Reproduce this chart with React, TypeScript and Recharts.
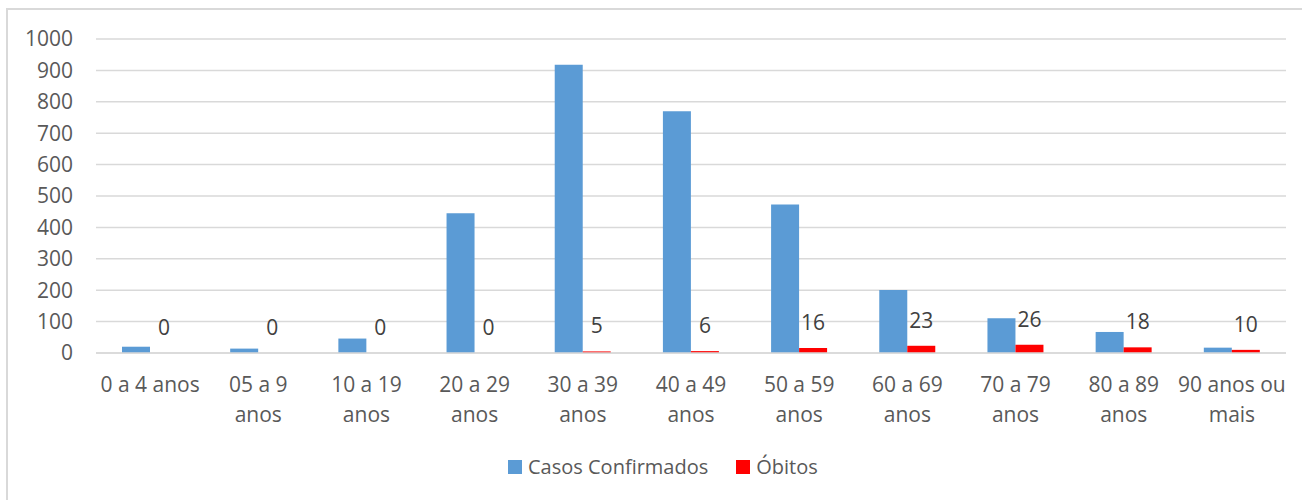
import React from 'react';
import {
    BarChart,
    Bar,
    XAxis,
    YAxis,
    CartesianGrid,
    Legend,
    LabelList
} from 'recharts';

const faixas = [
    '0 a 4 anos',
    '05 a 9 anos',
    '10 a 19 anos',
    '20 a 29 anos',
    '30 a 39 anos',
    '40 a 49 anos',
    '50 a 59 anos',
    '60 a 69 anos',
    '70 a 79 anos',
    '80 a 89 anos',
    '90 anos ou mais'
];
const casosConfirmados = [20, 14, 46, 445, 918, 770, 473, 201, 111, 67, 17];
const obitos = [0, 0, 0, 0, 5, 6, 16, 23, 26, 18, 10];
const yTicks = [0, 100, 200, 300, 400, 500, 600, 700, 800, 900, 1000];

const data = faixas.map((faixa, i) => ({
    faixa,
    'Casos Confirmados': casosConfirmados[i],
    'Óbitos': obitos[i]
}));

const FONT = '"Open Sans", sans-serif';
const AZUL = '#5b9bd5';
const VERMELHO = '#ff0000';

// quebra o rótulo antes da última palavra quando é comprido demais
const splitLabel = (text: string) => {
    if (text.length <= 10) return [text];
    const idx = text.lastIndexOf(' ');
    return [text.slice(0, idx), text.slice(idx + 1)];
};

const FaixaTick = ({ x, y, payload }: any) => {
    const lines = splitLabel(payload.value);
    return (
        <g>
            {lines.map((line, i) => (
                <text
                    key={i}
                    x={x}
                    y={y + 39 + i * 30}
                    textAnchor="middle"
                    fill="#595959"
                    fontSize={21}
                    fontFamily={FONT}
                >
                    {line}
                </text>
            ))}
        </g>
    );
};

// rótulo dos óbitos: desenhado a partir da barra azul, porque o Recharts
// não mostra rótulo para barras de altura zero
const ObitoLabel = (props: any) => {
    const { x, y, width, height, index } = props;
    const base = Number(y) + Number(height);
    const pxPorUnidade = Number(height) / casosConfirmados[index];
    const topo = base - obitos[index] * pxPorUnidade;
    return (
        <text
            x={Number(x) + Number(width) * 1.5}
            y={topo - 18}
            textAnchor="middle"
            fill="#404040"
            fontSize={21}
            fontFamily={FONT}
        >
            {obitos[index]}
        </text>
    );
};

const LegendaCustom = () => (
    <div style={{ display: 'flex', alignItems: 'center', fontFamily: FONT, fontSize: 20, color: '#595959' }}>
        <span style={{ width: 14, height: 14, background: AZUL, display: 'inline-block', marginRight: 6 }} />
        <span style={{ marginRight: 28 }}>Casos Confirmados</span>
        <span style={{ width: 14, height: 14, background: VERMELHO, display: 'inline-block', marginRight: 6 }} />
        <span>Óbitos</span>
    </div>
);

export default function App() {
    return (
        <div style={{ position: 'absolute', left: 0, top: 0, width: 1302, height: 500, overflow: 'hidden', background: '#fff' }}>
            {/* moldura do gráfico (só topo e esquerda aparecem) */}
            <div style={{
                position: 'absolute', left: 6, top: 8, width: 1400, height: 600,
                border: '2px solid #d9d9d9'
            }} />
            <div style={{ position: 'absolute', left: 0, top: 0 }}>
                <BarChart
                    width={1302}
                    height={500}
                    data={data}
                    barSize={28}
                    barGap={0}
                    margin={{ top: 39, right: 16, left: 0, bottom: 0 }}
                >
                    <CartesianGrid vertical={false} stroke="#d9d9d9" strokeWidth={1.5} />
                    <XAxis
                        dataKey="faixa"
                        height={120}
                        interval={0}
                        tickLine={false}
                        tickSize={0}
                        tickMargin={0}
                        axisLine={{ stroke: '#d9d9d9', strokeWidth: 1.5 }}
                        tick={<FaixaTick />}
                    />
                    <YAxis
                        width={96}
                        domain={[0, 1000]}
                        ticks={yTicks}
                        interval={0}
                        axisLine={false}
                        tickLine={false}
                        tickSize={0}
                        tickMargin={23}
                        tick={{ fill: '#595959', fontSize: 21, fontFamily: FONT }}
                    />
                    <Legend
                        content={<LegendaCustom />}
                        wrapperStyle={{ left: 508, top: 453, width: 'auto' }}
                    />
                    <Bar dataKey="Casos Confirmados" fill={AZUL} isAnimationActive={false}>
                        <LabelList dataKey="Óbitos" content={<ObitoLabel />} />
                    </Bar>
                    <Bar dataKey="Óbitos" fill={VERMELHO} isAnimationActive={false} />
                </BarChart>
            </div>
        </div>
    );
}
